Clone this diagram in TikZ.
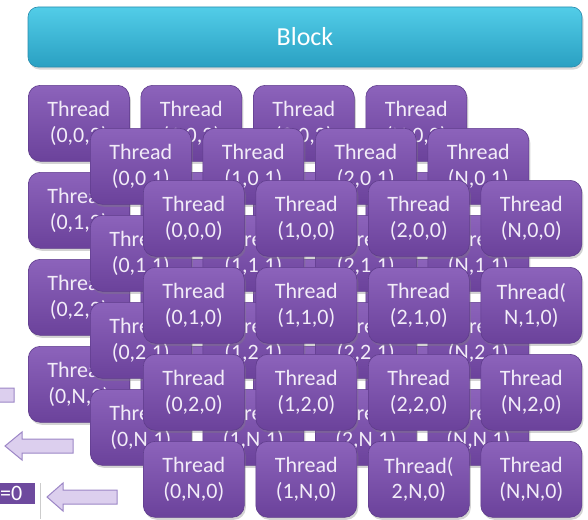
\documentclass[tikz,border=0pt]{standalone}
\usepackage{fontspec}
\setmainfont{Carlito}
\usetikzlibrary{shadows}
\definecolor{thrtop}{HTML}{8C63BB}
\definecolor{thrbot}{HTML}{6B429B}
\definecolor{thrline}{HTML}{5F3C8C}
\definecolor{thrtext}{HTML}{F2ECF8}
\definecolor{blktop}{HTML}{52CDE8}
\definecolor{blkbot}{HTML}{2AA0C2}
\definecolor{blkline}{HTML}{2A8CAD}
\definecolor{arrfill}{HTML}{DCCFEE}
\definecolor{arrline}{HTML}{9C86C6}
\definecolor{zfill}{HTML}{6E4A9E}
\begin{document}
\begin{tikzpicture}[x=1pt,y=-1pt,
  thr/.style={rounded corners=12pt, top color=thrtop, bottom color=thrbot,
    draw=thrline, line width=0.6pt, minimum width=101pt, minimum height=76pt,
    inner sep=0pt, anchor=north west, align=center, text=thrtext,
    font=\fontsize{22}{25.5}\selectfont,
    drop shadow={shadow xshift=1.5pt, shadow yshift=-2.5pt, opacity=0.35}},
  blk/.style={rounded corners=10pt, top color=blktop, bottom color=blkbot,
    draw=blkline, line width=0.6pt, minimum width=554pt, minimum height=60pt,
    inner sep=0pt, text=white, font=\fontsize{26}{30}\selectfont,
    drop shadow={shadow xshift=1.5pt, shadow yshift=-2.5pt, opacity=0.3}},
  blkarr/.style={fill=arrfill, draw=arrline, line width=1pt, line join=miter},
  zlbl/.style={text=white, inner sep=0pt, font=\fontsize{22}{25}\selectfont}]
\path[use as bounding box] (0,0) rectangle (588,519);
\clip (0,0) rectangle (588,519);

% Block header
\node[blk] (block) at (305,37) {Block};

% back layer
\foreach \c/\i in {0/0,1/1,2/2,3/N}
  \foreach \r/\j in {0/0,1/1,2/2,3/N}
    \node[thr] (b\c\r) at ({28+112.5*\c},{85+87*\r}) {Thread\\(\i,\j,2)};

% middle layer
\foreach \c/\i in {0/0,1/1,2/2,3/N}
  \foreach \r/\j in {0/0,1/1,2/2,3/N}
    \node[thr] (m\c\r) at ({90+112.5*\c},{128+87*\r}) {Thread\\(\i,\j,1)};

% front layer
\node[thr] (f00) at (143,180) {Thread\\(0,0,0)};
\node[thr] (f10) at (255.5,180) {Thread\\(1,0,0)};
\node[thr] (f20) at (368,180) {Thread\\(2,0,0)};
\node[thr] (f30) at (480.5,180) {Thread\\(N,0,0)};
\node[thr] (f01) at (143,267) {Thread\\(0,1,0)};
\node[thr] (f11) at (255.5,267) {Thread\\(1,1,0)};
\node[thr] (f21) at (368,267) {Thread\\(2,1,0)};
\node[thr] (f31) at (480.5,267) {Thread(\\N,1,0)};
\node[thr] (f02) at (143,354) {Thread\\(0,2,0)};
\node[thr] (f12) at (255.5,354) {Thread\\(1,2,0)};
\node[thr] (f22) at (368,354) {Thread\\(2,2,0)};
\node[thr] (f32) at (480.5,354) {Thread\\(N,2,0)};
\node[thr] (f03) at (143,441) {Thread\\(0,N,0)};
\node[thr] (f13) at (255.5,441) {Thread\\(1,N,0)};
\node[thr] (f23) at (368,441) {Thread(\\2,N,0)};
\node[thr] (f33) at (480.5,441) {Thread\\(N,N,0)};

% left arrows
\draw[blkarr] (-60,395) -- (-43,381) -- (-43,388) -- (14,388) -- (14,402) -- (-43,402) -- (-43,409) -- cycle;
\draw[blkarr] (5,446) -- (22,432) -- (22,439) -- (73,439) -- (73,453) -- (22,453) -- (22,460) -- cycle;
\draw[blkarr] (47,497) -- (63,483) -- (63,490) -- (117,490) -- (117,504) -- (63,504) -- (63,511) -- cycle;

% z label
\node[fill=zfill, minimum width=37pt, minimum height=21pt, anchor=north west, inner sep=0pt] (zb) at (-2,483) {};
\node[zlbl, anchor=east] (zt) at ([xshift=-13pt]zb.east) {=0};
\draw[black!20, line width=0.6pt] (40,483) -- (40,519);
\end{tikzpicture}
\end{document}
